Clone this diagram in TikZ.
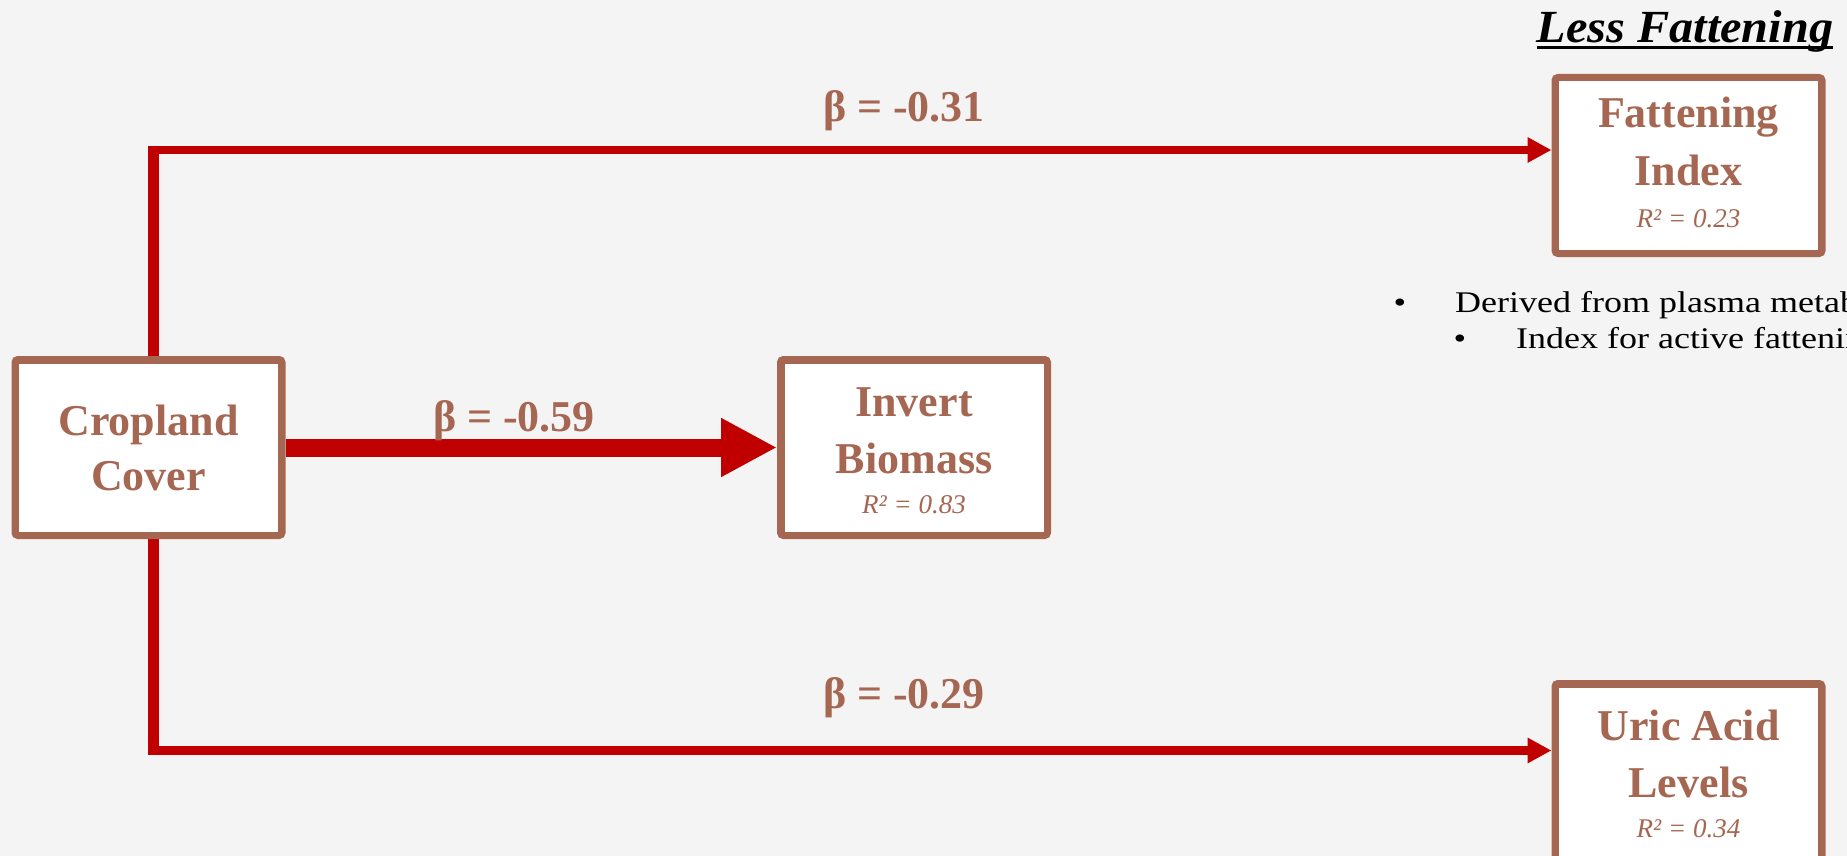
\documentclass[tikz,border=0pt]{standalone}
\usepackage{fontspec}
\setmainfont{Liberation Serif}
\newfontfamily\widefont[FakeStretch=1.2]{Liberation Serif}
\newfontfamily\titlefont[FakeStretch=1.05]{Liberation Serif}
\usetikzlibrary{arrows.meta}
\definecolor{bgc}{RGB}{244,244,244}
\definecolor{brn}{RGB}{166,103,82}
\definecolor{redc}{RGB}{192,0,0}
\pgfdeclarelayer{back}
\pgfsetlayers{back,main}
\begin{document}
\begin{tikzpicture}[x=1pt,y=-1pt,
  box/.style={draw=brn, line width=7pt, fill=white, rounded corners=3pt,
    minimum width=267pt, minimum height=176pt, inner sep=0pt},
  big/.style={font=\fontsize{44}{50}\selectfont\bfseries, text=brn, inner sep=0pt, anchor=base},
  rsq/.style={font=\fontsize{27}{30}\selectfont\itshape, text=brn, inner sep=0pt, anchor=base},
  betalbl/.style={font=\fontsize{44}{50}\selectfont\bfseries, text=brn, inner sep=0pt, anchor=base},
  bul/.style={font=\widefont\fontsize{30}{34}\selectfont, text=black, inner sep=0pt},
  conn/.style={draw=redc, line width=8.5pt},
  vseg/.style={draw=redc, line width=11pt},
  bigconn/.style={draw=redc, line width=18pt}
]
\useasboundingbox (0,0) rectangle (1847,856);
\clip (0,0) rectangle (1847,856);
\begin{pgfonlayer}{back}
\fill[bgc] (0,0) rectangle (1847,856);
\end{pgfonlayer}

% boxes
\node[box] (crop) at (148.5,447.5) {};
\node[box] (inv) at (914,447.5) {};
\node[box] (fat) at (1688.5,165.5) {};
\node[box] (uric) at (1688.5,771.5) {};
\foreach \n in {crop,inv,fat,uric}
  \draw[brn, line width=2pt] ([shift={(6.5,6.5)}]\n.north west) rectangle ([shift={(-6.5,-6.5)}]\n.south east);

% box texts
\node[big] (cropA) at (148.5,435) {Cropland};
\node[big] (cropB) at (148.5,490) {Cover};
\node[big] (invA) at (914,416) {Invert};
\node[big] (invB) at (914,473) {Biomass};
\node[rsq] (invC) at (914,513) {R² = 0.83};
\node[big] (fatA) at (1688.5,128) {Fattening};
\node[big] (fatB) at (1688.5,185) {Index};
\node[rsq] (fatC) at (1688.5,227) {R² = 0.23};
\node[big] (uricA) at (1688.5,740) {Uric Acid};
\node[big] (uricB) at (1688.5,797) {Levels};
\node[rsq] (uricC) at (1688.5,837) {R² = 0.34};

% path labels
\node[betalbl] (b1) at (904,122) {β = -0.31};
\node[betalbl] (b2) at (514,431) {β = -0.59};
\node[betalbl] (b3) at (904,708) {β = -0.29};

% heading
\node[font=\titlefont\bfseries\itshape\fontsize{46}{50}\selectfont, inner sep=0pt, anchor=base] (less) at (1685,43) {Less Fattening};
\draw[line width=3pt] ([yshift=-4.5pt]less.base west) -- ([yshift=-4.5pt]less.base east);

% bullets
\node[bul, anchor=base] (d1) at (1400,312) {•};
\node[bul, anchor=base west] (t1) at (1455,312) {Derived from plasma metabolites};
\node[bul, anchor=base] (d2) at (1460,348) {•};
\node[bul, anchor=base west] (t2) at (1516,348) {Index for active fattening};

% connectors
\coordinate (ytop) at (0,150);
\coordinate (ybot) at (0,750.5);
\coordinate (vt) at (153.5,145.75);
\coordinate (vb) at (153.5,754.75);
\begin{pgfonlayer}{back}
\draw[conn, -{Triangle[length=24pt,width=24pt]}] ([xshift=5pt]crop.north) |- (fat.west |- ytop);
\draw[vseg] ([xshift=5pt]crop.north) -- (vt);
\draw[conn, -{Triangle[length=24pt,width=24pt]}] ([xshift=5pt]crop.south) |- (uric.west |- ybot);
\draw[vseg] ([xshift=5pt]crop.south) -- (vb);
\draw[bigconn, -{Triangle[length=56pt,width=55pt]}] (crop.east) -- (inv.west);
\end{pgfonlayer}
\end{tikzpicture}
\end{document}
